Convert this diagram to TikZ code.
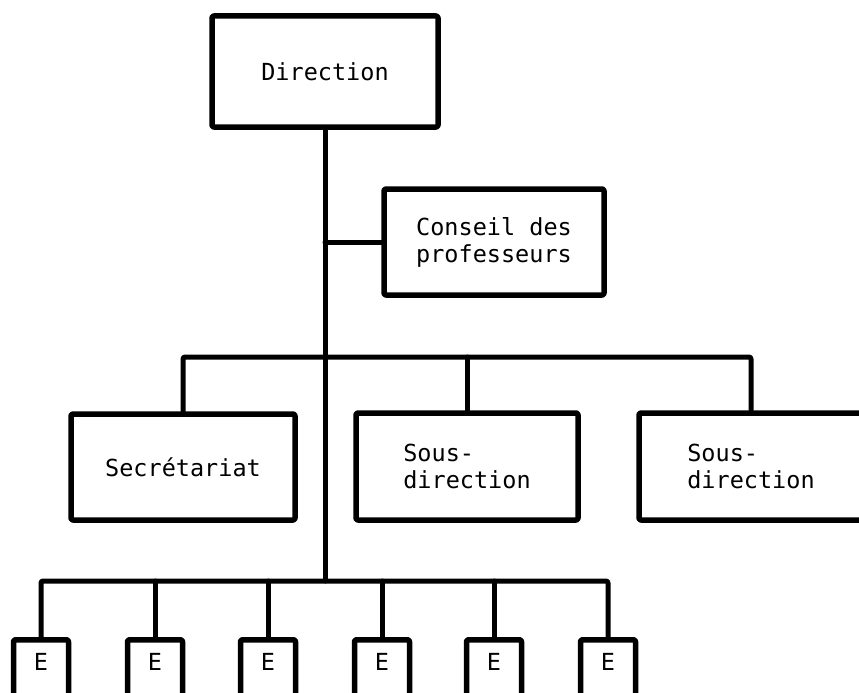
\documentclass[tikz,border=0pt]{standalone}
\usepackage{fontspec}
\newfontfamily\plotfont{DejaVu Sans Mono}
\begin{document}
\begin{tikzpicture}[x=1pt,y=-1pt,
  every path/.style={line width=5.5pt, line join=round, line cap=round},
  unit/.style={draw, line width=5.5pt, rounded corners=2pt, inner sep=0pt,
    font=\plotfont\fontsize{23.5}{27}\selectfont},
  ebox/.style={unit, anchor=north, minimum width=55pt,
    text height=31pt, text depth=50pt},
  link/.style={line width=5pt, rounded corners=2pt}]
\useasboundingbox (0,0) rectangle (859,693);

% upper levels
\node[unit, minimum width=226pt, minimum height=111pt] (dir) at (325,71.5) {Direction};
\node[unit, minimum width=220pt, minimum height=106pt, align=center] (cons) at (494,242)
  {Conseil des\\professeurs};
\node[unit, minimum width=224pt, minimum height=106pt] (sec) at (183,467) {Secrétariat};
\node[unit, minimum width=222pt, minimum height=107pt, align=left] (sd1) at (467,466.5)
  {Sous-\\direction};
\node[unit, minimum width=224pt, minimum height=107pt, align=left] (sd2) at (751,466.5)
  {Sous-\\direction};

% bottom row of units
\node[ebox] (e1) at (41,637) {E};
\node[ebox] (e2) at (155,637) {E};
\node[ebox] (e3) at (268,637) {E};
\node[ebox] (e4) at (382,637) {E};
\node[ebox] (e5) at (494,637) {E};
\node[ebox] (e6) at (608,637) {E};

% bus bars
\coordinate (tb) at (325,357);
\coordinate (bb) at (325,581);

% main trunk and side branch
\draw[link] (dir.south) -- (dir.south |- bb);
\draw[link] (dir.south |- cons.west) -- (cons.west);

% second level
\draw[link] (sec.north) -- (sec.north |- tb) -- (sd2.north |- tb) -- (sd2.north);
\draw[link] (sd1.north) -- (sd1.north |- tb);

% bottom level
\draw[link] (e1.north) -- (e1.north |- bb) -- (e6.north |- bb) -- (e6.north);
\foreach \k in {e2,e3,e4,e5}
  \draw[link] (\k.north) -- (\k.north |- bb);
\end{tikzpicture}
\end{document}
